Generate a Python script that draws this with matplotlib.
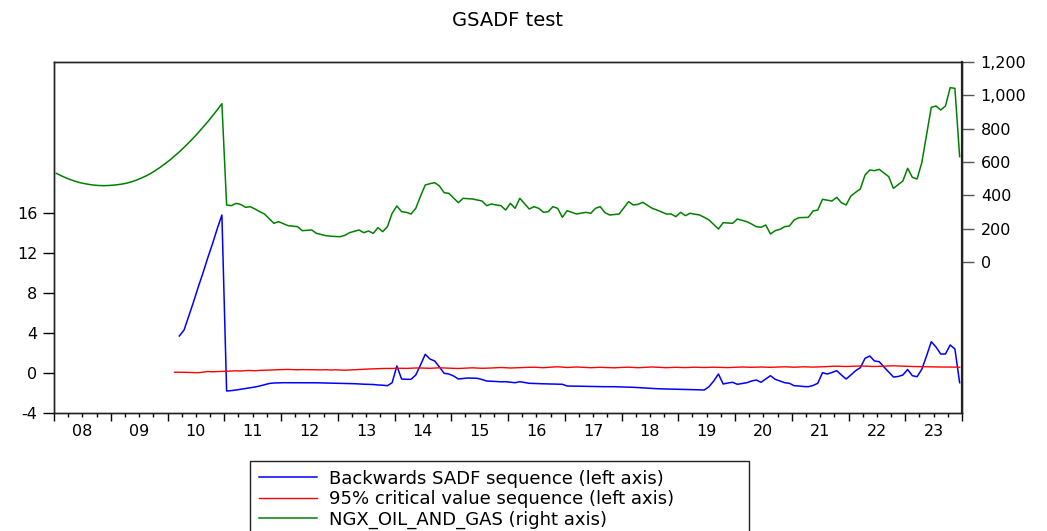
import numpy as np
import matplotlib
matplotlib.use("Agg")
import matplotlib.pyplot as plt
from matplotlib.ticker import FixedLocator, FuncFormatter

# monthly observations, Jan 2008 .. Dec 2023
start_year = 2008

# NGX oil & gas index (right axis), starts Jan 2008
ngx_oil_gas = [
    532, 518, 505, 494, 484, 476, 470, 465, 461, 459, 458, 459,
    461, 464, 468, 474, 482, 492, 504, 517, 532, 550, 569, 590,
    612, 636, 661, 688, 716, 745, 776, 808, 841, 876, 912, 950,
    342, 338, 352, 345, 328, 332, 318, 302, 288, 260, 232, 242,
    230, 218, 215, 212, 188, 190, 192, 172, 165, 158, 155, 153,
    152, 160, 176, 184, 192, 176, 186, 172, 206, 182, 212, 292,
    336, 302, 298, 288, 322, 395, 462, 470, 476, 456, 416, 412,
    384, 356, 382, 380, 378, 372, 366, 338, 348, 342, 338, 312,
    352, 322, 382, 350, 318, 332, 322, 298, 302, 332, 322, 268,
    308, 298, 288, 293, 298, 292, 322, 332, 296, 282, 285, 288,
    325, 362, 342, 346, 358, 340, 322, 312, 300, 288, 288, 272,
    298, 278, 292, 287, 282, 268, 252, 225, 198, 236, 234, 232,
    258, 250, 242, 228, 212, 208, 222, 168, 188, 196, 212, 216,
    252, 266, 267, 268, 306, 312, 376, 371, 366, 388, 356, 342,
    396, 418, 438, 522, 552, 548, 556, 534, 512, 442, 464, 486,
    562, 508, 498, 596, 762, 928, 936, 912, 936, 1046, 1042, 632,
]

# backwards SADF sequence (left axis), starts Mar 2010
bsadf_start = 26
bsadf = [
    3.7, 4.3, 5.7, 7.1, 8.6, 10.0, 11.5, 12.9, 14.4, 15.8,
    -1.8, -1.76, -1.7, -1.62, -1.55, -1.48, -1.4, -1.3, -1.18, -1.05, -1.0, -0.98,
    -0.97, -0.97, -0.96, -0.97, -0.97, -0.98, -0.97, -0.98, -0.99, -1.0, -1.0, -1.01,
    -1.02, -1.03, -1.05, -1.07, -1.1, -1.12, -1.13, -1.15, -1.2, -1.22, -1.27, -0.97,
    0.7, -0.6, -0.63, -0.63, -0.2, 0.8, 1.87, 1.4, 1.2, 0.6, -0.03, -0.1,
    -0.3, -0.6, -0.55, -0.5, -0.52, -0.53, -0.65, -0.8, -0.82, -0.85, -0.88, -0.87,
    -0.92, -0.97, -0.87, -0.95, -1.03, -1.05, -1.07, -1.08, -1.09, -1.1, -1.12, -1.13,
    -1.3, -1.31, -1.32, -1.33, -1.34, -1.35, -1.35, -1.36, -1.37, -1.37, -1.37, -1.39,
    -1.41, -1.42, -1.43, -1.46, -1.49, -1.52, -1.55, -1.57, -1.59, -1.6, -1.61, -1.62,
    -1.63, -1.65, -1.66, -1.67, -1.69, -1.7, -1.37, -0.8, -0.1, -1.1, -1.0, -0.93,
    -1.13, -1.05, -0.97, -0.8, -0.7, -0.93, -0.6, -0.27, -0.63, -0.8, -0.97, -1.03,
    -1.27, -1.3, -1.35, -1.37, -1.25, -1.03, 0.03, -0.1, 0.05, 0.23, -0.2, -0.6,
    -0.2, 0.23, 0.53, 1.47, 1.7, 1.2, 1.13, 0.6, 0.1, -0.4, -0.35, -0.2,
    0.35, -0.27, -0.37, 0.37, 1.7, 3.13, 2.6, 1.9, 1.9, 2.8, 2.4, -0.97,
]

# 95% critical value sequence (left axis), starts Feb 2010
cv_start = 25
cv95 = [
    0.07, 0.08, 0.07, 0.06, 0.05, 0.03, 0.08, 0.15, 0.12, 0.14, 0.15,
    0.17, 0.2, 0.22, 0.2, 0.24, 0.25, 0.22, 0.26, 0.28, 0.3, 0.32, 0.33,
    0.34, 0.36, 0.34, 0.32, 0.34, 0.33, 0.31, 0.3, 0.31, 0.33, 0.3, 0.32,
    0.3, 0.28, 0.3, 0.32, 0.35, 0.38, 0.4, 0.42, 0.44, 0.45, 0.45, 0.46,
    0.47, 0.47, 0.46, 0.48, 0.5, 0.5, 0.48, 0.47, 0.5, 0.52, 0.5, 0.48,
    0.47, 0.45, 0.47, 0.5, 0.52, 0.5, 0.47, 0.48, 0.5, 0.52, 0.55, 0.53,
    0.5, 0.52, 0.55, 0.57, 0.57, 0.58, 0.55, 0.53, 0.57, 0.6, 0.62, 0.58,
    0.55, 0.57, 0.6, 0.58, 0.55, 0.53, 0.55, 0.57, 0.55, 0.53, 0.52, 0.55,
    0.57, 0.58, 0.55, 0.53, 0.55, 0.57, 0.6, 0.58, 0.55, 0.53, 0.55, 0.57,
    0.55, 0.54, 0.56, 0.58, 0.57, 0.55, 0.57, 0.58, 0.57, 0.55, 0.54, 0.56,
    0.58, 0.6, 0.58, 0.57, 0.59, 0.6, 0.58, 0.57, 0.59, 0.6, 0.62, 0.6,
    0.58, 0.6, 0.62, 0.6, 0.59, 0.6, 0.62, 0.65, 0.67, 0.68, 0.66, 0.65,
    0.67, 0.68, 0.7, 0.68, 0.66, 0.65, 0.67, 0.68, 0.7, 0.72, 0.7, 0.68,
    0.66, 0.65, 0.64, 0.63, 0.62, 0.62, 0.61, 0.6, 0.6, 0.6, 0.59, 0.58,
]

assert len(ngx_oil_gas) == 192
assert len(bsadf) == 192 - bsadf_start
assert len(cv95) == 192 - cv_start

labels = ["Backwards SADF sequence (left axis)",
          "95% critical value sequence (left axis)",
          "NGX_OIL_AND_GAS (right axis)"]


def month_x(first, n):
    # decimal-year position of the middle of each month
    return start_year + (np.arange(first, first + n) + 0.5) / 12.0


plt.rcParams['font.family'] = ['DejaVu Sans']
plt.rcParams['axes.unicode_minus'] = False

W, H = 1047, 531
fig = plt.figure(figsize=(W / 100, H / 100), dpi=100)
ax = fig.add_axes([54 / W, 1 - 413 / H, (962 - 54) / W, (413 - 62) / H])
ax2 = ax.twinx()

l1, = ax.plot(month_x(bsadf_start, len(bsadf)), bsadf, color='#0000ff', lw=1.1)
l2, = ax.plot(month_x(cv_start, len(cv95)), cv95, color='#ff0000', lw=1.0)
l3, = ax2.plot(month_x(0, len(ngx_oil_gas)), ngx_oil_gas, color='#008000', lw=1.1)

ax.set_xlim(2008, 2024)
ax.set_ylim(-4, 31.1)
ax2.set_ylim(-906, 1200)

ax.set_yticks(np.arange(-4, 17, 4))
ax2.set_yticks(np.arange(0, 1201, 200))
ax2.yaxis.set_major_formatter(FuncFormatter(lambda v, p: f"{int(v):,}"))

# years: long ticks at boundaries, short quarter ticks, label at mid-year
ax.xaxis.set_major_locator(FixedLocator(np.arange(2008, 2025)))
ax.xaxis.set_major_formatter(FuncFormatter(lambda v, p: ""))
quarters = [y + q for y in range(2008, 2024) for q in (0.25, 0.5, 0.75)]
ax.xaxis.set_minor_locator(FixedLocator(quarters))
ax.xaxis.set_minor_formatter(FuncFormatter(
    lambda v, p: f"{int(v) % 100:02d}" if abs(v - int(v) - 0.5) < 1e-6 else ""))

fs = 11.5
ax.tick_params(axis='x', which='major', direction='out', length=6, width=1, labelsize=fs)
ax.tick_params(axis='x', which='minor', direction='out', length=3, width=1,
               labelsize=fs, pad=5)
ax.tick_params(axis='y', direction='out', length=8, width=1, labelsize=fs, pad=4)
ax2.tick_params(axis='y', direction='out', length=8.5, width=1, labelsize=fs, pad=5,
                color='#555555')

for a in (ax, ax2):
    for s in a.spines.values():
        s.set_linewidth(1.0)
        s.set_color('#222222')
ax2.spines['right'].set_linewidth(1.6)

fig.text(507 / W, 1 - 21 / H, "GSADF test", ha='center', va='center', fontsize=14)

fig.legend([l1, l2, l3], labels, loc='upper left',
           bbox_to_anchor=(250 / W, 1 - 466 / H, 499 / W, 0.01),
           mode='expand', borderaxespad=0, fontsize=13, frameon=True,
           fancybox=False, edgecolor='#222222', framealpha=1,
           handlelength=3.2, handletextpad=0.65, labelspacing=0.13, borderpad=0.5)

fig.savefig("out.png", dpi=100)
